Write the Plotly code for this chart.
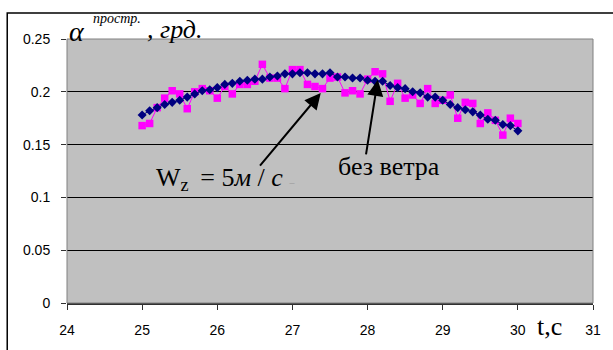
import plotly.graph_objects as go

# time, s
t = [round(25 + 0.1 * i, 1) for i in range(51)]

# alpha, deg — wind W_z = 5 m/s (magenta squares)
alpha_wind = [0.168, 0.170, 0.185, 0.194, 0.201, 0.198, 0.184, 0.200, 0.203, 0.201,
              0.194, 0.205, 0.198, 0.207, 0.207, 0.210, 0.226, 0.213, 0.213, 0.203,
              0.221, 0.221, 0.207, 0.205, 0.203, 0.213, 0.214, 0.199, 0.201, 0.198,
              0.212, 0.219, 0.217, 0.191, 0.208, 0.194, 0.197, 0.189, 0.203, 0.189,
              0.192, 0.197, 0.175, 0.190, 0.189, 0.170, 0.180, 0.173, 0.159, 0.175,
              0.170]

# alpha, deg — no wind (navy diamonds)
alpha_calm = [0.178, 0.182, 0.185, 0.188, 0.190, 0.192, 0.195, 0.198, 0.201, 0.202,
              0.204, 0.207, 0.208, 0.210, 0.211, 0.212, 0.212, 0.214, 0.215, 0.217,
              0.217, 0.218, 0.218, 0.217, 0.217, 0.218, 0.214, 0.214, 0.213, 0.213,
              0.211, 0.210, 0.210, 0.206, 0.204, 0.203, 0.200, 0.199, 0.195, 0.195,
              0.192, 0.188, 0.185, 0.183, 0.181, 0.178, 0.174, 0.173, 0.169, 0.168,
              0.163]

x_ticks = [24, 25, 26, 27, 28, 29, 30, 31]
y_ticks = [0, 0.05, 0.1, 0.15, 0.2, 0.25]

W, H = 613, 350
L, R, T, B = 67, 18, 39, 46
PW, PH = W - L - R, H - T - B

def px(xp):
    return (xp - L) / PW

def py(yp):
    return (H - B - yp) / PH

serif = "Liberation Serif, Times New Roman, serif"
sans = "Liberation Sans, Arial, sans-serif"

fig = go.Figure()
fig.add_trace(go.Scatter(
    x=t, y=alpha_wind, mode="lines+markers",
    line=dict(color="#FF00FF", width=1),
    marker=dict(symbol="square", size=7.5, color="#FF00FF", line=dict(width=0)),
    showlegend=False))
fig.add_trace(go.Scatter(
    x=t, y=alpha_calm, mode="lines+markers",
    line=dict(color="#000080", width=1),
    marker=dict(symbol="diamond", size=7, color="#000080", line=dict(width=0)),
    showlegend=False))

fig.update_layout(
    width=W, height=H,
    margin=dict(l=L, r=R, t=T, b=B, pad=0),
    paper_bgcolor="white", plot_bgcolor="#C0C0C0",
    font=dict(family=sans, size=14, color="black"),
    xaxis=dict(range=[24, 31], tickvals=x_ticks, ticktext=[str(v) for v in x_ticks],
               showgrid=False, zeroline=False, showline=True, linecolor="#303030",
               linewidth=2, ticks="outside", ticklen=5, tickcolor="#303030",
               ticklabelstandoff=8,
               tickfont=dict(family=sans, size=14, color="black")),
    yaxis=dict(range=[0, 0.25], tickvals=y_ticks,
               ticktext=["0", "0.05", "0.1", "0.15", "0.2", "0.25"],
               showgrid=True, gridcolor="black", gridwidth=1, zeroline=False,
               showline=False, ticks="outside", ticklen=5, tickcolor="#303030",
               ticklabelstandoff=8,
               tickfont=dict(family=sans, size=14, color="black")),
)

shapes = [
    # plot area border
    dict(type="rect", xref="paper", yref="paper", x0=0, x1=1, y0=0, y1=1,
         line=dict(color="#808080", width=1), layer="above"),
    # outer chart frame
    dict(type="rect", xref="paper", yref="paper", x0=px(7), x1=px(640),
         y0=py(380), y1=py(13), line=dict(color="black", width=1.5)),
]
fig.update_layout(shapes=shapes)

ann = []
# arrows
ann.append(dict(x=27.377, y=0.1988, xref="x", yref="y", text="", showarrow=True,
                ax=-62, ay=74, axref="pixel", ayref="pixel",
                arrowhead=2, arrowsize=1.6, arrowwidth=2, arrowcolor="black"))
ann.append(dict(x=28.136, y=0.2113, xref="x", yref="y", text="", showarrow=True,
                ax=-12, ay=76, axref="pixel", ayref="pixel",
                arrowhead=2, arrowsize=1.6, arrowwidth=2, arrowcolor="black"))
# labels
ann.append(dict(x=px(154), y=py(180), xref="paper", yref="paper",
                xanchor="left", yanchor="middle", showarrow=False,
                text="W<sub>z</sub>&#8201; = 5<i>м</i> / <i>с</i><span style='font-size:10px;color:#999999'>&#8201;&#8201; –</span>",
                font=dict(family=serif, size=26, color="black")))
ann.append(dict(x=px(337), y=py(167), xref="paper", yref="paper",
                xanchor="left", yanchor="middle", showarrow=False,
                text="без ветра", font=dict(family=serif, size=26, color="black")))
# y-axis title pieces
ann.append(dict(x=px(67), y=py(31), xref="paper", yref="paper",
                xanchor="left", yanchor="middle", showarrow=False,
                text="<i>α</i>", font=dict(family=serif, size=28, color="black")))
ann.append(dict(x=px(91), y=py(18), xref="paper", yref="paper",
                xanchor="left", yanchor="middle", showarrow=False,
                text="<i>простр.</i>", font=dict(family=serif, size=14, color="black")))
ann.append(dict(x=px(145), y=py(29), xref="paper", yref="paper",
                xanchor="left", yanchor="middle", showarrow=False,
                text="<i>, грд.</i>", font=dict(family=serif, size=26, color="black")))
# x-axis title
ann.append(dict(x=px(537), y=py(328), xref="paper", yref="paper",
                xanchor="left", yanchor="middle", showarrow=False,
                text="t,c", font=dict(family=serif, size=26, color="black")))
fig.update_layout(annotations=ann)

fig.write_html("out.html", config={"displayModeBar": False},
               post_script="document.body.style.margin='0';document.body.style.padding='0';")
